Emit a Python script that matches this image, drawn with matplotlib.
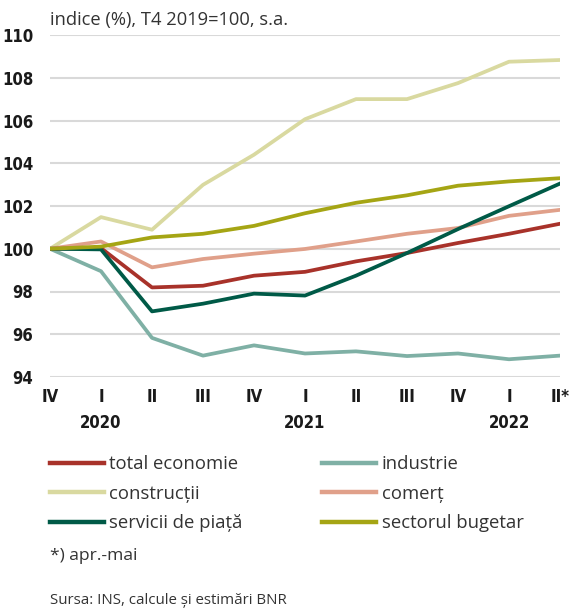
import matplotlib
matplotlib.use("Agg")
import matplotlib.pyplot as plt
import matplotlib.transforms as mtransforms
from matplotlib.lines import Line2D

# quarters IV 2019 .. II 2022
quarters = ["IV", "I", "II", "III", "IV", "I", "II", "III", "IV", "I", "II*"]
years = ["2020", "2021", "2022"]
year_pos = [1, 5, 9]

total_economie = [100, 100.03, 98.19, 98.27, 98.74, 98.92, 99.41, 99.80, 100.27, 100.70, 101.17]
industrie = [100, 98.95, 95.83, 95.00, 95.48, 95.10, 95.20, 94.98, 95.10, 94.83, 95.00]
constructii = [100, 101.48, 100.89, 102.99, 104.40, 106.06, 107.00, 107.00, 107.75, 108.75, 108.83]
comert = [100, 100.34, 99.13, 99.52, 99.77, 99.99, 100.34, 100.70, 100.97, 101.54, 101.82]
servicii = [100, 99.97, 97.07, 97.43, 97.90, 97.81, 98.74, 99.80, 100.92, 101.99, 103.05]
bugetar = [100, 100.10, 100.53, 100.70, 101.07, 101.66, 102.15, 102.50, 102.95, 103.15, 103.30]

C_TOTAL = "#a8322a"
C_IND = "#7fb0a5"
C_CONSTR = "#d9d9a0"
C_COM = "#e0a08a"
C_SERV = "#005a47"
C_BUG = "#a5a514"

TXT = "Open Sans"
TICK = "DejaVu Sans"

fig = plt.figure(figsize=(5.7, 6.1), dpi=100)
ax = fig.add_axes([50 / 570, 1 - 377 / 610, 510 / 570, 342 / 610])

x = list(range(len(quarters)))
lw = 2.7
ax.plot(x, constructii, color=C_CONSTR, lw=lw)
ax.plot(x, industrie, color=C_IND, lw=lw)
ax.plot(x, comert, color=C_COM, lw=lw)
ax.plot(x, total_economie, color=C_TOTAL, lw=lw)
ax.plot(x, servicii, color=C_SERV, lw=lw)
ax.plot(x, bugetar, color=C_BUG, lw=lw)

ax.set_xlim(0, 10)
ax.set_ylim(94, 110)
ax.set_yticks(range(94, 111, 2))
ax.grid(axis="y", color="#d9d9d9", lw=1.5)
ax.set_axisbelow(True)
for s in ax.spines.values():
    s.set_visible(False)
ax.tick_params(length=0)
ax.tick_params(axis="y", pad=12)
ax.tick_params(axis="x", pad=8)
ax.set_xticks(x)
ax.set_xticklabels(quarters)
for lab in ax.get_xticklabels() + ax.get_yticklabels():
    lab.set_family(TICK)
    lab.set_stretch("condensed")
    lab.set_fontweight("bold")
    lab.set_fontsize(12)
    lab.set_color("#1a1a1a")

trans = mtransforms.blended_transform_factory(ax.transData, ax.transAxes)
for yr, p in zip(years, year_pos):
    ax.text(p, -0.135, yr, transform=trans, ha="center", va="center",
            family=TICK, stretch="condensed", fontweight="bold", fontsize=12,
            color="#1a1a1a")

fig.text(50 / 570, 1 - 20 / 610, "indice (%), T4 2019=100, s.a.", family=TXT,
         fontsize=13.2, color="#333333", va="center", ha="left")

handles = [Line2D([], [], color=C_TOTAL, lw=3.2),
           Line2D([], [], color=C_CONSTR, lw=3.2),
           Line2D([], [], color=C_SERV, lw=3.2),
           Line2D([], [], color=C_IND, lw=3.2),
           Line2D([], [], color=C_COM, lw=3.2),
           Line2D([], [], color=C_BUG, lw=3.2)]
labels = ["total economie", "construcții", "servicii de piață",
          "industrie", "comerț", "sectorul bugetar"]
fig.legend(handles, labels, ncol=2, loc="upper left",
           bbox_to_anchor=(50 / 570, 1 - 455 / 610), frameon=False,
           borderpad=0, borderaxespad=0,
           prop={"family": TXT, "size": 13.3}, handlelength=2.9,
           handletextpad=0.32, columnspacing=4.3, labelspacing=0.63,
           labelcolor="#333333")

fig.text(50 / 570, 1 - 556 / 610, "*) apr.-mai", family=TXT, fontsize=12.6,
         color="#333333", va="center")
fig.text(50 / 570, 1 - 601 / 610, "Sursa: INS, calcule și estimări BNR", family=TXT,
         fontsize=10.8, color="#333333", va="center")

fig.savefig("out.png", dpi=100)
